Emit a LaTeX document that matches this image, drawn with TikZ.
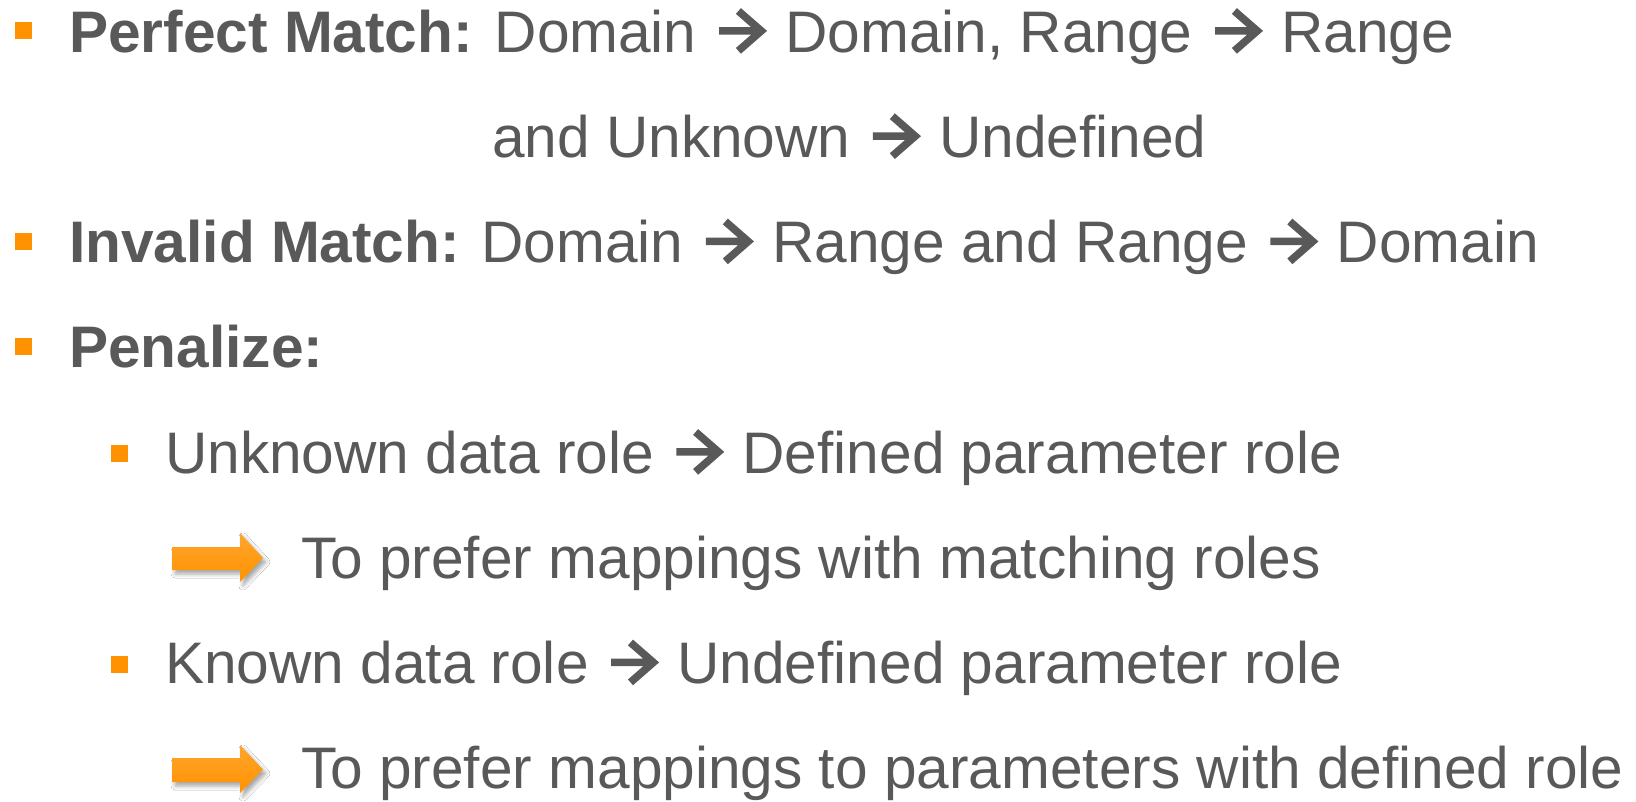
\documentclass[tikz,border=0pt]{standalone}
\usepackage{fontspec}
\setmainfont{Liberation Sans}
\usetikzlibrary{shadows.blur}
\definecolor{txt}{HTML}{595959}
\definecolor{org}{HTML}{FF9200}
\newcommand{\rarr}{\hspace{0.04em}\tikz[baseline=0pt,x=1em,y=1em]{\draw[line width=0.13em,color=txt,line cap=butt,line join=miter] (0,0.36) -- (0.70,0.36) (0.33,0.70) -- (0.72,0.36) -- (0.33,0.02);}\hspace{0.07em}}
\begin{document}
\begin{tikzpicture}[x=1pt,y=-1pt,
  line/.style={anchor=base west, inner sep=0pt, text=txt, font=\fontsize{58.6}{70}\selectfont},
  bul/.style={fill=org, minimum size=17pt, inner sep=0pt, draw=none},
  blockarrow/.style={top color=org!82!white, bottom color=org, draw=none,
     blur shadow={shadow xshift=3pt, shadow yshift=-4pt, shadow blur radius=4pt, shadow opacity=35}}]
\useasboundingbox (0,0) rectangle (1636,801);
\fill[white] (0,0) rectangle (1636,801);

\node[bul] (b1) at (23.5,30.5) {};
\node[line] (l1) at (69,52) {\textbf{Perfect Match:} Domain \rarr{} Domain, Range \rarr{} Range};
\node[line] (l2) at (492,157.25) {and Unknown \rarr{} Undefined};
\node[bul] (b3) at (23.5,241) {};
\node[line] (l3) at (69,262.5) {\textbf{Invalid Match:} Domain \rarr{} Range and Range \rarr{} Domain};
\node[bul] (b4) at (23.5,346.25) {};
\node[line] (l4) at (69,367.75) {\textbf{Penalize:}};
\node[bul] (b5) at (119.5,453.5) {};
\node[line] (l5) at (165,473) {Unknown data role \rarr{} Defined parameter role};
\shade[blockarrow] (172,547) -- (240,547) -- (240,533) -- (263,558) -- (240,582) -- (240,570) -- (172,570) -- cycle;
\node[line] (l6) at (301,578.25) {To prefer mappings with matching roles};
\node[bul] (b7) at (119.5,664) {};
\node[line] (l7) at (165,683.5) {Known data role \rarr{} Undefined parameter role};
\shade[blockarrow] (172,758) -- (240,758) -- (240,745) -- (263,769.5) -- (240,793) -- (240,782) -- (172,782) -- cycle;
\node[line] (l8) at (301,788.75) {To prefer mappings to parameters with defined role};
\end{tikzpicture}
\end{document}
